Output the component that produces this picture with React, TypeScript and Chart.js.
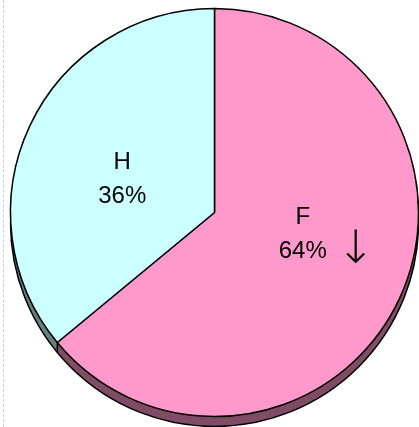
import React, { useEffect, useRef } from "react";
import { Chart, registerables } from "chart.js";

Chart.register(...registerables);

// ---- data ----
const categories = ["F", "H"];
const shares = [64, 36];
const percentLabels = ["64%", "36%"];
const markers = ["↓", ""];
const faceColors = ["#FF99CC", "#CCFFFF"];
const sideColors = ["#804C66", "#668080"];

const DEPTH = 10;
const FONT = "24px 'Liberation Sans', Arial, sans-serif";
const MARKER_FONT = "200 46px 'DejaVu Sans', sans-serif";

const depthPlugin = {
  id: "depth3d",
  beforeDatasetsDraw(chart: any) {
    const meta = chart.getDatasetMeta(0);
    const ctx: CanvasRenderingContext2D = chart.ctx;
    const arcs = meta.data as any[];
    for (let d = DEPTH; d >= 1; d--) {
      ctx.save();
      ctx.translate(0, d);
      arcs.forEach((arc, i) => {
        const p = arc.getProps(["x", "y", "startAngle", "endAngle", "outerRadius"], true);
        ctx.beginPath();
        ctx.moveTo(p.x, p.y);
        ctx.arc(p.x, p.y, p.outerRadius, p.startAngle, p.endAngle);
        ctx.closePath();
        ctx.fillStyle = sideColors[i];
        ctx.fill();
      });
      ctx.restore();
    }
    if (arcs.length) {
      const p = arcs[0].getProps(["x", "y", "outerRadius"], true);
      ctx.save();
      ctx.lineWidth = 1.5;
      ctx.strokeStyle = "#000";
      ctx.beginPath();
      ctx.arc(p.x, p.y + DEPTH, p.outerRadius, 0, Math.PI);
      ctx.stroke();
      arcs.forEach((arc) => {
        const q = arc.getProps(["x", "y", "startAngle", "outerRadius"], true);
        const s = Math.sin(q.startAngle);
        if (s > 0.01) {
          const ex = q.x + q.outerRadius * Math.cos(q.startAngle);
          const ey = q.y + q.outerRadius * s;
          ctx.beginPath();
          ctx.moveTo(ex, ey);
          ctx.lineTo(ex, ey + DEPTH);
          ctx.stroke();
        }
      });
      ctx.restore();
    }
  },
};

const labelPlugin = {
  id: "sliceLabels",
  afterDatasetsDraw(chart: any) {
    const meta = chart.getDatasetMeta(0);
    const ctx: CanvasRenderingContext2D = chart.ctx;
    const nudges = [
      [-4, -22],
      [0, 10],
    ];
    ctx.save();
    ctx.fillStyle = "#000";
    ctx.textBaseline = "middle";
    (meta.data as any[]).forEach((arc, i) => {
      const c = arc.getCenterPoint(true);
      const cx = c.x + nudges[i][0];
      const cy = c.y + nudges[i][1];
      ctx.font = FONT;
      ctx.textAlign = "center";
      ctx.fillText(categories[i], cx, cy - 17);
      ctx.fillText(percentLabels[i], cx, cy + 17);
      if (markers[i]) {
        const w = ctx.measureText(percentLabels[i]).width;
        ctx.font = MARKER_FONT;
        ctx.fillText(markers[i], cx + w / 2 + 29, cy + 17);
      }
    });
    ctx.restore();
  },
};

export default function App() {
  const ref = useRef<HTMLCanvasElement | null>(null);
  useEffect(() => {
    if (!ref.current) return;
    const chart = new Chart(ref.current, {
      type: "pie",
      data: {
        labels: categories,
        datasets: [
          {
            data: shares,
            backgroundColor: faceColors,
            borderColor: "#000",
            borderWidth: 1.5,
            hoverOffset: 0,
            clip: false as any,
          },
        ],
      },
      options: {
        responsive: false,
        animation: false,
        events: [],
        radius: 204,
        layout: { padding: { left: 10, right: 0, top: 0, bottom: 2 } },
        plugins: {
          legend: { display: false },
          tooltip: { enabled: false },
        },
      } as any,
      plugins: [depthPlugin, labelPlugin],
    });
    return () => chart.destroy();
  }, []);
  return (
    <div style={{ position: "absolute", left: 0, top: 0, width: 419, height: 427, background: "#fff" }}>
      <div
        style={{
          position: "absolute",
          left: 3,
          top: 0,
          width: 0,
          height: 427,
          borderLeft: "1px dashed #c5cbef",
        }}
      />
      <canvas ref={ref} width={419} height={427} style={{ position: "absolute", left: 0, top: 0 }} />
    </div>
  );
}
